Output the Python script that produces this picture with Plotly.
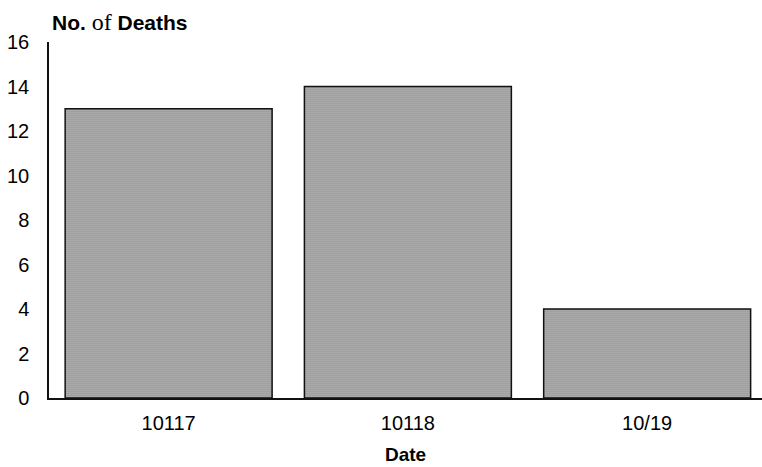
import plotly.graph_objects as go

dates = ["10117", "10118", "10/19"]
deaths = [13, 14, 4]
y_ticks = [0, 2, 4, 6, 8, 10, 12, 14, 16]

font_family = "Liberation Sans, Arial, sans-serif"

# figure / margin geometry in pixels
W, H = 762, 467
M_L, M_R, M_T, M_B = 49, 0, 42, 69

fig = go.Figure(
    go.Bar(
        x=dates,
        y=deaths,
        width=0.865,
        marker=dict(
            color="#a4a4a4",
            line=dict(color="#111111", width=1.5),
            pattern=dict(shape=".", fgcolor="#3c3c3c", bgcolor="#c8c8c8",
                         size=2, solidity=0.6),
        ),
        hoverinfo="skip",
    )
)

fig.update_layout(
    width=W,
    height=H,
    margin=dict(l=M_L, r=M_R, t=M_T, b=M_B),
    paper_bgcolor="white",
    plot_bgcolor="white",
    showlegend=False,
    font=dict(family=font_family, color="#000000", size=18),
)

fig.update_xaxes(
    type="category",
    range=[-0.5, 2.48],
    showline=True,
    linecolor="#111111",
    linewidth=1.5,
    ticks="outside",
    ticklen=6,
    tickcolor="rgba(0,0,0,0)",
    showgrid=False,
    tickfont=dict(size=20),
    title=dict(text="<b>Date</b>", font=dict(size=19), standoff=15),
)

fig.update_yaxes(
    range=[0, 16],
    tickvals=y_ticks,
    showline=True,
    linecolor="#111111",
    linewidth=1.5,
    ticks="outside",
    ticklen=14,
    tickcolor="rgba(0,0,0,0)",
    showgrid=False,
    zeroline=False,
    tickfont=dict(size=20),
)

plot_w = W - M_L - M_R
plot_h = H - M_T - M_B
fig.add_annotation(
    x=(50 - M_L) / plot_w, y=(H - M_B - 22) / plot_h,
    xref="paper", yref="paper",
    xanchor="left", yanchor="middle",
    text=("<b>No.</b> <span style=\"font-family:'Liberation Serif', serif;"
          "font-size:24px\">of</span> <b>Deaths</b>"),
    showarrow=False,
    font=dict(size=21),
)

fig.write_html("out.html")
